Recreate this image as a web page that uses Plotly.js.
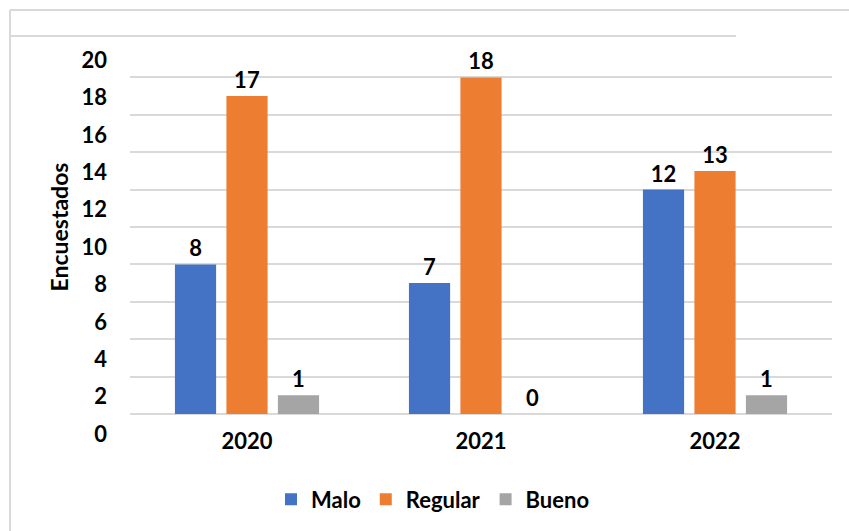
<!DOCTYPE html>
<html>
<head>
<meta charset="utf-8">
<script src="https://cdn.plot.ly/plotly-3.0.1.min.js"></script>
<style>
  html, body { margin: 0; padding: 0; background: #fff; }
  #chart { width: 849px; height: 531px; }
</style>
</head>
<body>
<div id="chart"></div>
<script>
// Survey answers per year
const years = ['2020', '2021', '2022'];
const malo = [8, 7, 12];
const regular = [17, 18, 13];
const bueno = [1, 0, 1];
const yTicks = [0, 2, 4, 6, 8, 10, 12, 14, 16, 18, 20];

const FONT = 'Lato, "Open Sans", sans-serif';
const labelFont = { family: FONT, size: 22, color: '#000', weight: 'bold' };

function series(name, values, color) {
  return {
    type: 'bar',
    name: name,
    x: years,
    y: values,
    marker: { color: color },
    text: values.map(String),
    textposition: 'outside',
    cliponaxis: false,
    textfont: labelFont,
    hoverinfo: 'x+y+name'
  };
}

const data = [
  series('Malo', malo, '#4472c4'),
  series('Regular', regular, '#ed7d31'),
  series('Bueno', bueno, '#a5a5a5')
];

const grey = '#d9d9d9';
const layout = {
  width: 849,
  height: 531,
  margin: { l: 130, r: 17, t: 40, b: 117 },
  paper_bgcolor: '#fff',
  plot_bgcolor: '#fff',
  font: { family: FONT, color: '#000' },
  barmode: 'group',
  bargap: 0.34,
  bargroupgap: 0.2,
  showlegend: true,
  legend: {
    orientation: 'h',
    x: 0.51, xanchor: 'center', xref: 'container',
    y: 0.02, yanchor: 'bottom', yref: 'container',
    font: labelFont,
    itemwidth: 30,
    traceorder: 'normal'
  },
  xaxis: {
    type: 'category',
    showgrid: false,
    zeroline: false,
    showline: false,
    ticks: '',
    tickfont: labelFont,
    ticklabelstandoff: 12
  },
  yaxis: {
    range: [0, 20],
    tickvals: yTicks,
    ticktext: yTicks.map(String),
    showgrid: true,
    gridcolor: grey,
    gridwidth: 2,
    zeroline: true,
    zerolinecolor: grey,
    zerolinewidth: 2,
    showline: false,
    ticks: '',
    tickfont: labelFont,
    ticklabelstandoff: 22,
    ticklabelshift: 20,
    title: { text: 'Encuestados', font: { family: FONT, size: 23, color: '#000', weight: 'bold' }, standoff: 6 }
  },
  shapes: [
    // chart frame (left and top edges) and header rule
    { type: 'line', xref: 'paper', yref: 'paper',
      x0: -120 / 702, x1: 839 / 702, y0: 1 + 30 / 374, y1: 1 + 30 / 374,
      line: { color: grey, width: 2 } },
    { type: 'line', xref: 'paper', yref: 'paper',
      x0: -120 / 702, x1: -120 / 702, y0: 1 + 30 / 374, y1: -117 / 374,
      line: { color: grey, width: 2 } },
    { type: 'line', xref: 'paper', yref: 'paper',
      x0: -120 / 702, x1: 606 / 702, y0: 1 + 4 / 374, y1: 1 + 4 / 374,
      line: { color: grey, width: 2 } }
  ]
};

Plotly.newPlot('chart', data, layout, { displayModeBar: false, staticPlot: true });
</script>
</body>
</html>
